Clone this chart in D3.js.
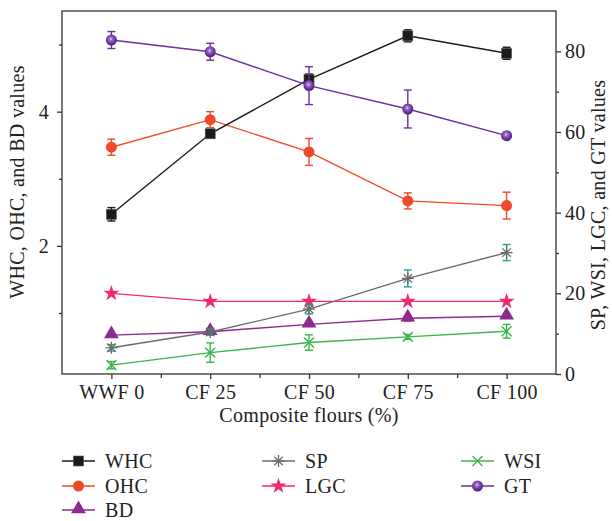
<!DOCTYPE html>
<html>
<head>
<meta charset="utf-8">
<script src="https://cdn.jsdelivr.net/npm/d3@7"></script>
<style>
  body { margin: 0; background: #fff; }
  svg text { font-family: "Liberation Serif", "DejaVu Serif", serif; fill: #222; letter-spacing: 0.3px; }
</style>
</head>
<body>
<div id="chart"></div>
<script>
// categories and values
var cats = ["WWF 0", "CF 25", "CF 50", "CF 75", "CF 100"];

// left axis series
var whc = [2.47, 3.67, 4.48, 5.13, 4.87];
var whcErr = [0.1, 0.03, 0.08, 0.09, 0.09];
var ohc = [3.47, 3.88, 3.40, 2.67, 2.60];
var ohcErr = [0.12, 0.12, 0.2, 0.12, 0.2];
var bd = [0.67, 0.72, 0.83, 0.92, 0.95];
var bdErr = [0.02, 0.03, 0.03, 0.04, 0.03];

// right axis series
var sp = [6.5, 10.4, 16.1, 23.7, 30.1];
var spErr = [0.8, 0.8, 1.2, 2.1, 2.0];
var lgc = [20, 18, 18, 18, 18];
var lgcErr = [0, 0, 0, 0, 0];
var wsi = [2.2, 5.3, 7.8, 9.2, 10.6];
var wsiErr = [0.9, 2.4, 1.9, 0.6, 1.7];
var gt = [82.8, 79.9, 71.5, 65.7, 59.1];
var gtErr = [2.1, 2.1, 4.7, 4.7, 0.5];

var leftTicks = [2, 4];
var leftMinor = [1, 3, 5];
var rightTicks = [0, 20, 40, 60, 80];
var rightMinor = [10, 30, 50, 70];

var svgWidth = 612, svgHeight = 521;
var plot = {left: 62, right: 556, top: 11, bottom: 374};
var fs = 20;

var svg = d3.select("#chart").append("svg")
    .attr("width", svgWidth)
    .attr("height", svgHeight);

var defs = svg.append("defs");
var grad = defs.append("radialGradient").attr("id", "gtBall")
    .attr("cx", "45%").attr("cy", "40%").attr("r", "60%");
grad.append("stop").attr("offset", "0%").attr("stop-color", "#e8dcf2");
grad.append("stop").attr("offset", "25%").attr("stop-color", "#9a6cc4");
grad.append("stop").attr("offset", "70%").attr("stop-color", "#6a2fa0");
grad.append("stop").attr("offset", "100%").attr("stop-color", "#4e1f7c");

var x = d3.scaleLinear().domain([-0.5, 4.5]).range([plot.left, plot.right]);
var yL = d3.scaleLinear().domain([0.09, 5.5]).range([plot.bottom, plot.top]);
var yR = d3.scaleLinear().domain([0, 90]).range([plot.bottom, plot.top]);

// axes
function styleAxis(g) {
  g.selectAll("path, line").attr("stroke", "#333").attr("stroke-width", 1.3);
  g.selectAll("text").attr("font-size", fs).attr("fill", "#222");
}

svg.append("g")
    .attr("transform", `translate(0,${plot.bottom})`)
    .call(d3.axisBottom(x).tickValues(d3.range(5)).tickFormat(i => cats[i]).tickSize(5).tickPadding(6).tickSizeOuter(0))
    .call(styleAxis)
    .call(g => g.select(".domain").remove());
svg.append("g")
    .attr("transform", `translate(0,${plot.bottom})`)
    .call(d3.axisBottom(x).tickValues([0.5, 1.5, 2.5, 3.5]).tickFormat("").tickSize(4).tickSizeOuter(0))
    .call(styleAxis)
    .call(g => g.select(".domain").remove());

svg.append("g")
    .attr("transform", `translate(${plot.left},0)`)
    .call(d3.axisLeft(yL).tickValues(leftTicks).tickFormat(d3.format("d")).tickSize(5).tickPadding(8).tickSizeOuter(0))
    .call(styleAxis)
    .call(g => g.select(".domain").remove());
svg.append("g")
    .attr("transform", `translate(${plot.left},0)`)
    .call(d3.axisLeft(yL).tickValues(leftMinor).tickFormat("").tickSize(3).tickSizeOuter(0))
    .call(styleAxis)
    .call(g => g.select(".domain").remove());

svg.append("g")
    .attr("transform", `translate(${plot.right},0)`)
    .call(d3.axisRight(yR).tickValues(rightTicks).tickFormat(d3.format("d")).tickSize(5).tickPadding(4).tickSizeOuter(0))
    .call(styleAxis)
    .call(g => g.select(".domain").remove());
svg.append("g")
    .attr("transform", `translate(${plot.right},0)`)
    .call(d3.axisRight(yR).tickValues(rightMinor).tickFormat("").tickSize(3).tickSizeOuter(0))
    .call(styleAxis)
    .call(g => g.select(".domain").remove());

// frame
svg.append("rect")
    .attr("x", plot.left).attr("y", plot.top)
    .attr("width", plot.right - plot.left).attr("height", plot.bottom - plot.top)
    .attr("fill", "none").attr("stroke", "#333").attr("stroke-width", 1.3);

// axis titles
svg.append("text")
    .attr("transform", `translate(24, 182) rotate(-90)`)
    .attr("text-anchor", "middle").attr("font-size", fs)
    .text("WHC, OHC, and BD values");
svg.append("text")
    .attr("transform", `translate(605, 205) rotate(-90)`)
    .attr("text-anchor", "middle").attr("font-size", fs)
    .text("SP, WSI, LGC, and GT values");
svg.append("text")
    .attr("x", 309).attr("y", 422)
    .attr("text-anchor", "middle").attr("font-size", fs)
    .text("Composite flours (%)");

// markers
function marker(g, type, color) {
  if (type == "square") {
    g.append("rect").attr("x", -5).attr("y", -5).attr("width", 10).attr("height", 10)
      .attr("fill", color).attr("stroke", "#555").attr("stroke-width", 0.6);
  } else if (type == "circle") {
    g.append("circle").attr("r", 5.5).attr("fill", color);
  } else if (type == "ball") {
    g.append("circle").attr("r", 5.5).attr("fill", "url(#gtBall)");
  } else if (type == "triangle") {
    g.append("path").attr("d", d3.symbol(d3.symbolTriangle, 95)()).attr("fill", color)
      .attr("transform", "translate(0,-1)");
  } else if (type == "star") {
    g.append("path").attr("d", d3.symbol(d3.symbolStar, 80)()).attr("fill", color);
  } else if (type == "asterisk") {
    [0, 45, 90, 135].forEach(function(a) {
      g.append("line").attr("x1", -6).attr("x2", 6).attr("y1", 0).attr("y2", 0)
        .attr("transform", `rotate(${a})`).attr("stroke", color).attr("stroke-width", 1.3);
    });
  } else if (type == "x") {
    [45, 135].forEach(function(a) {
      g.append("line").attr("x1", -7).attr("x2", 7).attr("y1", 0).attr("y2", 0)
        .attr("transform", `rotate(${a})`).attr("stroke", color).attr("stroke-width", 1.4);
    });
  }
}

var series = [
  {name: "WHC", vals: whc, err: whcErr, y: yL, color: "#1b1b1b", errColor: "#1b1b1b", mk: "square"},
  {name: "OHC", vals: ohc, err: ohcErr, y: yL, color: "#ef4a2a", errColor: "#ef4a2a", mk: "circle"},
  {name: "BD", vals: bd, err: bdErr, y: yL, color: "#8c2b8f", errColor: "#8c2b8f", mk: "triangle"},
  {name: "SP", vals: sp, err: spErr, y: yR, color: "#6b6b6b", errColor: "#2a9d9b", mk: "asterisk"},
  {name: "LGC", vals: lgc, err: lgcErr, y: yR, color: "#ee2b6f", errColor: "#ee2b6f", mk: "star"},
  {name: "WSI", vals: wsi, err: wsiErr, y: yR, color: "#3bb54a", errColor: "#3bb54a", mk: "x"},
  {name: "GT", vals: gt, err: gtErr, y: yR, color: "#6a2fa0", errColor: "#6a2fa0", mk: "ball"}
];

var drawOrder = ["WSI", "BD", "LGC", "SP", "OHC", "WHC", "GT"];
drawOrder.forEach(function(nm) {
  var s = series.find(d => d.name == nm);
  var g = svg.append("g");
  var line = d3.line().x((d, i) => x(i)).y(d => s.y(d));
  g.append("path").datum(s.vals)
    .attr("d", line).attr("fill", "none")
    .attr("stroke", s.color).attr("stroke-width", 1.4);

  s.vals.forEach(function(v, i) {
    var e = s.err[i];
    if (e > 0) {
      var eg = g.append("g").attr("stroke", s.errColor).attr("stroke-width", 1.4);
      var y1 = s.y(v + e), y2 = s.y(v - e);
      eg.append("line").attr("x1", x(i)).attr("x2", x(i)).attr("y1", y1).attr("y2", y2);
      eg.append("line").attr("x1", x(i) - 4).attr("x2", x(i) + 4).attr("y1", y1).attr("y2", y1);
      eg.append("line").attr("x1", x(i) - 4).attr("x2", x(i) + 4).attr("y1", y2).attr("y2", y2);
    }
    var mg = g.append("g").attr("transform", `translate(${x(i)},${s.y(v)})`);
    marker(mg, s.mk, s.color);
  });
});

// legend
var legendCols = [62, 262, 461];
var legendRows = [461, 486, 510];
var legendSlots = [["WHC", 0, 0], ["OHC", 0, 1], ["BD", 0, 2], ["SP", 1, 0], ["LGC", 1, 1], ["WSI", 2, 0], ["GT", 2, 1]];
legendSlots.forEach(function(slot) {
  var s = series.find(d => d.name == slot[0]);
  var lx = legendCols[slot[1]], ly = legendRows[slot[2]];
  var lg = svg.append("g");
  lg.append("line").attr("x1", lx).attr("x2", lx + 33).attr("y1", ly).attr("y2", ly)
    .attr("stroke", s.color).attr("stroke-width", 1.4);
  marker(lg.append("g").attr("transform", `translate(${lx + 16.5},${ly})`), s.mk, s.color);
  lg.append("text").attr("x", lx + 43).attr("y", ly + 6.5)
    .attr("font-size", fs).text(s.name);
});
</script>
</body>
</html>
